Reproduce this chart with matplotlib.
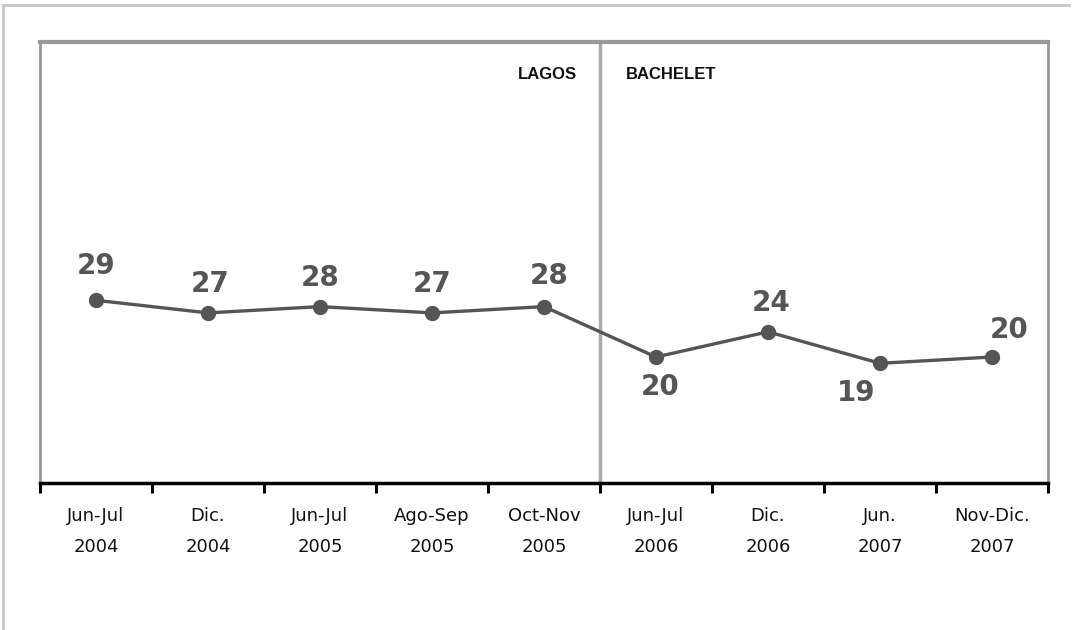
import matplotlib.pyplot as plt
from matplotlib.lines import Line2D

periodos = ["Jun-Jul\n2004", "Dic.\n2004", "Jun-Jul\n2005", "Ago-Sep\n2005", "Oct-Nov\n2005",
            "Jun-Jul\n2006", "Dic.\n2006", "Jun.\n2007", "Nov-Dic.\n2007"]
valores = [29, 27, 28, 27, 28, 20, 24, 19, 20]
# desplazamiento de cada etiqueta (px) respecto al punto
etiq_dx = [0, 2, 0, 0, 5, 4, 3, -24, 17]
etiq_dy = [34, 29, 29, 29, 31, -30, 29, -30, 27]
gobiernos = ["LAGOS", "BACHELET"]

fig = plt.figure(figsize=(10.73, 6.30), dpi=100)
fig.patch.set_facecolor("white")

# marco exterior
fig.add_artist(Line2D([3 / 1073, 3 / 1073], [0, 1 - 5 / 630], color="#c8c8c8", lw=2, transform=fig.transFigure))
fig.add_artist(Line2D([3 / 1073, 1069 / 1073], [1 - 5 / 630, 1 - 5 / 630], color="#c8c8c8", lw=2, transform=fig.transFigure))

ax = fig.add_axes([40 / 1073, 1 - 483 / 630, 1008 / 1073, 441 / 630])
x = list(range(len(valores)))
ax.plot(x, valores, color="#555555", lw=2.4, marker="o", markersize=10, zorder=3)

for xi, v, dx, dy in zip(x, valores, etiq_dx, etiq_dy):
    ax.annotate(str(v), (xi, v), xytext=(dx, dy), textcoords="offset pixels",
                ha="center", va="center", fontsize=20, fontweight="bold", color="#555555",
                family="DejaVu Sans")

ax.set_xlim(-0.5, len(valores) - 0.5)
ax.set_ylim(0, 70)
ax.axvline(4.5, color="#aaaaaa", lw=2.5, zorder=1)

ax.text(4.295, 64.8, gobiernos[0], ha="right", va="center", fontsize=12, fontweight="bold",
        family="Liberation Sans", color="#111111")
ax.text(4.73, 64.8, gobiernos[1], ha="left", va="center", fontsize=12, fontweight="bold",
        family="Liberation Sans", color="#111111")

ax.set_yticks([])
ax.set_xticks([i - 0.5 for i in range(len(valores) + 1)])
ax.set_xticklabels([])
ax.tick_params(axis="x", which="major", direction="out", length=7, width=2.2, color="black")
ax.set_xticks(x, minor=True)
ax.set_xticklabels(periodos, minor=True, fontsize=13, linespacing=1.94, color="#111111")
ax.tick_params(axis="x", which="minor", length=0, pad=17)

for s in ["top", "left", "right"]:
    ax.spines[s].set_color("#999999")
    ax.spines[s].set_linewidth(2)
ax.spines["top"].set_linewidth(3)
ax.spines["bottom"].set_color("black")
ax.spines["bottom"].set_linewidth(2.5)

fig.savefig("out.png", dpi=100)
